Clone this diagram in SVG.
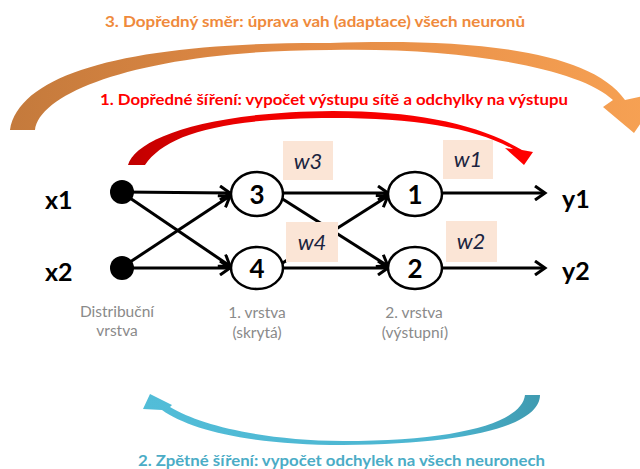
<svg xmlns="http://www.w3.org/2000/svg" width="640" height="469" viewBox="0 0 640 469">
<style>
.ttl{font-family:Lato,"Open Sans","DejaVu Sans",sans-serif;font-weight:bold;font-size:16px}
.lbl{font-family:Lato,"Open Sans","DejaVu Sans",sans-serif;font-weight:bold;font-size:25px;fill:#000}
.num{font-family:Lato,"Open Sans","DejaVu Sans",sans-serif;font-weight:bold;font-size:26px;fill:#000;text-anchor:middle}
.lay{font-family:Lato,"Open Sans","DejaVu Sans",sans-serif;font-size:15.5px;fill:#8a8a8a;text-anchor:middle}
.wt{font-family:Lato,"Open Sans","DejaVu Sans",sans-serif;font-style:italic;font-size:22px;fill:#1a2440;text-anchor:middle}
.wb{fill:#fbe5d6}
.cn{stroke:#000;stroke-width:3;fill:none;marker-end:url(#ah)}
.nd{fill:#fff;stroke:#000;stroke-width:2.5}
</style>
<defs>
<marker id="ah" markerUnits="userSpaceOnUse" markerWidth="16" markerHeight="16" refX="13" refY="8" orient="auto">
<path d="M3,1 L13,8 L3,15" fill="none" stroke="#000" stroke-width="3"/>
</marker>
<linearGradient id="gOr" x1="0" y1="0" x2="1" y2="0">
<stop offset="0" stop-color="#c47a3c"/>
<stop offset="0.45" stop-color="#e48b45"/>
<stop offset="1" stop-color="#f7a254"/>
</linearGradient>
<linearGradient id="gRd" x1="0" y1="0" x2="1" y2="0">
<stop offset="0" stop-color="#c00000"/>
<stop offset="0.3" stop-color="#f00000"/>
<stop offset="1" stop-color="#ff0000"/>
</linearGradient>
<linearGradient id="gBl" x1="0" y1="0" x2="1" y2="0">
<stop offset="0" stop-color="#52bdd8"/>
<stop offset="0.75" stop-color="#4cb5d0"/>
<stop offset="1" stop-color="#3f9ab0"/>
</linearGradient>
</defs>
<rect width="640" height="469" fill="#fff"/>

<g id="arc-orange">
<path d="M10,130 C20,70 140,42 330,43 C470,38 590,50 625,100 L662,92 L634,133 L603,107 L613,100 C580,68 460,47 330,50 C150,50 40,90 35,130 Z" fill="url(#gOr)"/>
</g>
<g id="arc-red">
<path d="M128,165 C135,140 200,112 333,111 C420,111 480,125 522,150 L533,152 L524,165 L505,148 L513,149 C475,128 415,118 333,118 C220,118 165,135 145,165 Z" fill="url(#gRd)"/>
</g>
<g id="arc-blue">
<path d="M540,395 C540,425 470,444 343,445 C250,445 190,430 162,410 L143,409 L150,394 L172,405 L170,407 C200,425 260,440 343,441 C460,441 522,422 525,395 Z" fill="url(#gBl)"/>
</g>

<text class="ttl" x="105" y="27" fill="#ef8a3c" textLength="420" lengthAdjust="spacingAndGlyphs">3. Dopředný směr: úprava vah (adaptace) všech neuronů</text>
<text class="ttl" x="100" y="105" fill="#ff0000" textLength="468" lengthAdjust="spacingAndGlyphs">1. Dopředné šíření: vypočet výstupu sítě a odchylky na výstupu</text>
<text class="ttl" x="138" y="466" fill="#4bacc6" textLength="407" lengthAdjust="spacingAndGlyphs">2. Zpětné šíření: vypočet odchylek na všech neuronech</text>

<g id="connectors">
<line class="cn" x1="122" y1="192" x2="230" y2="193"/>
<line class="cn" x1="124" y1="194" x2="230" y2="266"/>
<line class="cn" x1="124" y1="266" x2="230" y2="196"/>
<line class="cn" x1="122" y1="268" x2="230" y2="268"/>
<line class="cn" x1="283" y1="193" x2="388" y2="193"/>
<line class="cn" x1="281" y1="198" x2="388" y2="266"/>
<line class="cn" x1="281" y1="264" x2="388" y2="196"/>
<line class="cn" x1="283" y1="268" x2="388" y2="268"/>
<line class="cn" x1="443" y1="193" x2="545" y2="193"/>
<line class="cn" x1="443" y1="268" x2="545" y2="268"/>
</g>

<g id="weights">
<g id="w3"><rect class="wb" x="283" y="141" width="50" height="39"/><text class="wt" x="308" y="169">w3</text></g>
<g id="w4"><rect class="wb" x="286" y="222" width="52" height="40"/><text class="wt" x="312" y="250">w4</text></g>
<g id="w1"><rect class="wb" x="443" y="140" width="50" height="39"/><text class="wt" x="468" y="167">w1</text></g>
<g id="w2"><rect class="wb" x="446" y="221" width="51" height="41"/><text class="wt" x="471" y="249">w2</text></g>
</g>

<g id="in1"><circle cx="122" cy="192" r="12" fill="#000"/><text class="lbl" x="45" y="209">x1</text></g>
<g id="in2"><circle cx="122" cy="268" r="12" fill="#000"/><text class="lbl" x="45" y="281">x2</text></g>
<g id="n3"><ellipse class="nd" cx="257" cy="194" rx="26" ry="22"/><text class="num" x="257" y="204">3</text></g>
<g id="n4"><ellipse class="nd" cx="257" cy="268" rx="26" ry="21"/><text class="num" x="257" y="278">4</text></g>
<g id="n1"><ellipse class="nd" cx="415" cy="194" rx="27" ry="22"/><text class="num" x="415" y="204">1</text></g>
<g id="n2"><ellipse class="nd" cx="415" cy="268" rx="27" ry="21"/><text class="num" x="415" y="278">2</text></g>
<g id="out1"><text class="lbl" x="562" y="208">y1</text></g>
<g id="out2"><text class="lbl" x="562" y="280">y2</text></g>

<g id="layer-labels">
<text class="lay" x="117" y="317">Distribuční</text>
<text class="lay" x="117" y="336">vrstva</text>
<text class="lay" x="257" y="318">1. vrstva</text>
<text class="lay" x="257" y="338">(skrytá)</text>
<text class="lay" x="414" y="318">2. vrstva</text>
<text class="lay" x="415" y="338">(výstupní)</text>
</g>
</svg>
